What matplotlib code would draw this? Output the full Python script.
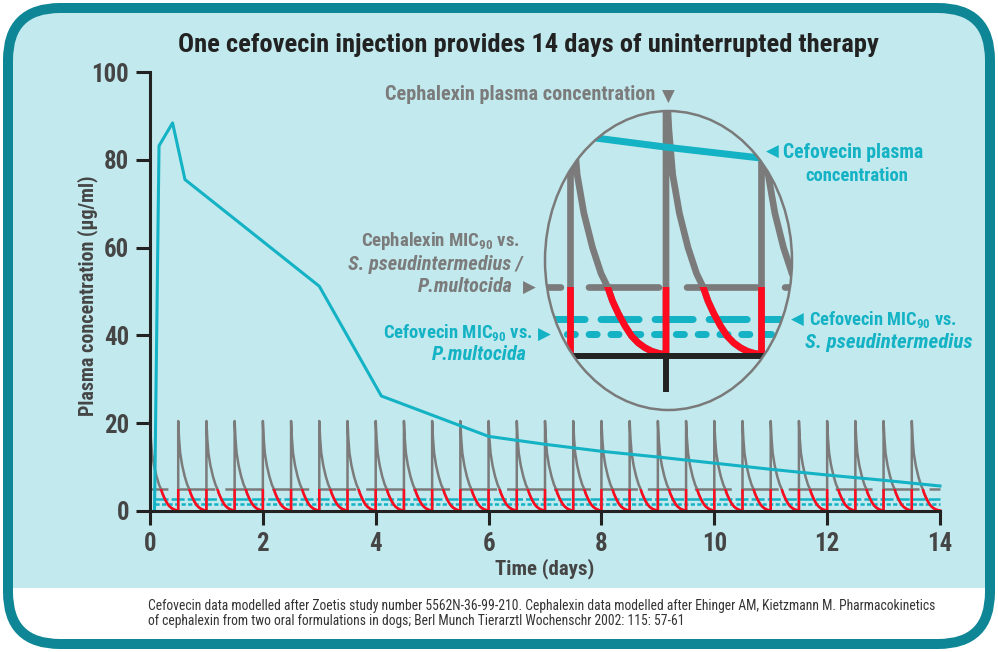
import numpy as np
import matplotlib
matplotlib.use('Agg')
import matplotlib.pyplot as plt
from matplotlib import font_manager
from matplotlib.patches import FancyBboxPatch, Rectangle, Ellipse
from matplotlib.transforms import Bbox, TransformedBbox

# 字体: 优先使用窄体, 没有的话用 DejaVu Sans
names = {f.name for f in font_manager.fontManager.ttflist}
NARROW = 'DejaVu Sans'
for cand in ['Liberation Sans Narrow', 'Roboto Condensed', 'Open Sans Condensed',
             'Noto Sans Condensed', 'DejaVu Sans Condensed']:
    if cand in names:
        NARROW = cand
        break
STRETCH = 'normal'
if NARROW == 'DejaVu Sans':
    if any(f.name == 'DejaVu Sans' and 'Condensed' in f.fname
           for f in font_manager.fontManager.ttflist):
        STRETCH = 'condensed'
FAM = [NARROW, 'DejaVu Sans']
plt.rcParams['font.family'] = FAM
plt.rcParams['font.stretch'] = STRETCH
plt.rcParams['font.weight'] = 'bold'
plt.rcParams['lines.scale_dashes'] = False
plt.rcParams['mathtext.fontset'] = 'custom'
plt.rcParams['mathtext.bf'] = NARROW + ':bold'
plt.rcParams['mathtext.rm'] = NARROW

# ---- 数据 ----
cef_days = [0.08, 0.16, 0.40, 0.62, 3.0, 4.1, 6.0, 7.0, 8.0, 9.0, 10.0, 11.0, 12.0, 13.0, 14.0]
cef_conc = [0.3, 83.2, 88.4, 75.5, 51.2, 26.2, 17.0, 15.2, 13.6, 12.3, 10.9, 9.5, 8.2, 7.0, 5.7]

dose_days = [0.0, 0.5, 1.0, 1.5, 2.0, 2.5, 3.0, 3.5, 4.0, 4.5, 5.0, 5.5, 6.0, 6.5,
             7.0, 7.5, 8.0, 8.5, 9.0, 9.5, 10.0, 10.5, 11.0, 11.5, 12.0, 12.5, 13.0, 13.5]
# 单次给药后的头孢氨苄浓度 (给药后天数, μg/ml)
decay_t = [0.0, 0.015, 0.035, 0.07, 0.115, 0.16, 0.195, 0.22, 0.25, 0.285, 0.32,
           0.355, 0.39, 0.425, 0.46, 0.5]
decay_c = [20.5, 16.5, 13.2, 10.4, 7.9, 6.0, 5.0, 4.0, 3.1, 2.2, 1.45,
           0.95, 0.6, 0.35, 0.2, 0.1]

ceph_mic = 5.0          # Cephalexin MIC90
cef_mic_sp = 2.7        # Cefovecin MIC90 vs S. pseudintermedius
cef_mic_pm = 1.6        # Cefovecin MIC90 vs P. multocida
ceph_span = [0.0, 14.0]
cef_mic_span = [0.09, 14.0]

x_ticks = [0, 2, 4, 6, 8, 10, 12, 14]
y_ticks = [0, 20, 40, 60, 80, 100]

ceph_t = np.concatenate([d + np.array(decay_t) for d in dose_days])
ceph_c = np.tile(decay_c, len(dose_days))

# ---- 颜色 ----
LIGHT = '#c2e9ed'
TEAL = '#0f8696'
CYAN = '#13b2c4'
GRAY = '#7b7b7b'
RED = '#ff0a1e'
BLACK = '#222222'
TXT = '#454545'

fig = plt.figure(figsize=(9.98, 6.52), dpi=100)

# 背景 (像素坐标, y 向下)
bg = fig.add_axes([0, 0, 1, 1], zorder=0)
bg.set_xlim(0, 998)
bg.set_ylim(652, 0)
bg.axis('off')
panel = FancyBboxPatch((8, 8), 982, 636, boxstyle='round,pad=0,rounding_size=52',
                       fc=LIGHT, ec='none')
bg.add_patch(panel)
white = Rectangle((0, 588), 998, 70, fc='white', ec='none')
bg.add_patch(white)
white.set_clip_path(panel)
bg.add_patch(FancyBboxPatch((8, 8), 982, 636, boxstyle='round,pad=0,rounding_size=52',
                            fc='none', ec=TEAL, lw=7.2))

fits = []  # (文本, 目标宽度 px)


def label(x, y, s, color, width=None, size=15, ha='left', style='normal',
          fam=None, weight='bold'):
    t = bg.text(x, y, s, color=color, fontsize=size, ha=ha, va='center', style=style,
                fontweight=weight, family=fam if fam else FAM)
    if width:
        fits.append((t, width))
    return t


label(528, 45, 'One cefovecin injection provides 14 days of uninterrupted therapy',
      BLACK, width=696, size=19, ha='center')

label(655, 95, 'Cephalexin plasma concentration', GRAY, width=270, ha='right')
label(668, 97, '\u25BC', GRAY, size=12, ha='center', fam='DejaVu Sans')

label(772, 152, '\u25C0', CYAN, size=12, ha='center', fam='DejaVu Sans')
label(783, 152, 'Cefovecin plasma', CYAN, width=140)
label(857, 176, 'concentration', CYAN, width=103, ha='center')

label(520, 241, r'Cephalexin MIC$_{\mathbf{90}}$ vs.', GRAY, width=159, ha='right')
label(522, 264, 'S. pseudintermedius /', GRAY, width=175, ha='right', style='italic')
label(513, 287, 'P.multocida', GRAY, width=95, ha='right', style='italic')
label(529, 288, '\u25B6', GRAY, size=12, ha='center', fam='DejaVu Sans')

label(533, 333, r'Cefovecin MIC$_{\mathbf{90}}$ vs.', CYAN, width=150, ha='right')
label(544, 335, '\u25B6', CYAN, size=12, ha='center', fam='DejaVu Sans')
label(527, 355, 'P.multocida', CYAN, width=95, ha='right', style='italic')

label(797, 320, '\u25C0', CYAN, size=12, ha='center', fam='DejaVu Sans')
label(809, 320, r'Cefovecin MIC$_{\mathbf{90}}$ vs.', CYAN, width=148)
label(805, 343, 'S. pseudintermedius', CYAN, width=168, style='italic')

foot1 = label(148, 606, 'Cefovecin data modelled after Zoetis study number 5562N-36-99-210. '
              'Cephalexin data modelled after Ehinger AM, Kietzmann M. Pharmacokinetics',
              '#333333', width=784, size=9, weight='normal')
foot2 = label(148, 621, 'of cephalexin from two oral formulations in dogs; '
              'Berl Munch Tierarztl Wochenschr 2002: 115: 57-61',
              '#333333', size=9, weight='normal')

# ---- 主图 ----
ax = fig.add_axes([150 / 998, (652 - 511) / 652, 790 / 998, 439 / 652], zorder=1)
ax.set_facecolor('none')
ax.set_xlim(0, 14)
ax.set_ylim(0, 100)
for s in ['top', 'right']:
    ax.spines[s].set_visible(False)
for s in ['left', 'bottom']:
    ax.spines[s].set_color(BLACK)
    ax.spines[s].set_linewidth(2.2)
ax.set_xticks(x_ticks)
ax.set_yticks(y_ticks)
ax.tick_params(length=10, width=2.2, color=BLACK, labelsize=17, labelcolor=TXT, pad=5)
xl = ax.set_xlabel('Time (days)', fontsize=15.5, color=TXT, fontweight='bold')
yl = ax.set_ylabel('Plasma concentration (\u00b5g/ml)', fontsize=15.5, color=TXT,
                   fontweight='bold')

ax.plot(cef_mic_span, [cef_mic_sp] * 2, color=CYAN, lw=1.8,
        linestyle=(0, (9.4, 2.2)), clip_on=False)
ax.plot(cef_mic_span, [cef_mic_pm] * 2, color=CYAN, lw=1.8,
        linestyle=(0, (3.0, 1.7)), clip_on=False)
ax.plot(ceph_span, [ceph_mic] * 2, color=GRAY, lw=1.8,
        linestyle=(13.7, (26.6, 7.2)), clip_on=False)
ax.plot(ceph_t, ceph_c, color=GRAY, lw=1.8, clip_on=False)
red, = ax.plot(ceph_t, ceph_c, color=RED, lw=1.8)
red.set_clip_box(TransformedBbox(Bbox([[-1, -10], [15, ceph_mic]]), ax.transData))
ax.plot(cef_days, cef_conc, color=CYAN, lw=2.2, clip_on=False)

# ---- 放大椭圆 ----
axi = fig.add_axes([545 / 998, (652 - 410) / 652, 247 / 998, 299 / 652], zorder=2)
axi.set_facecolor('none')
axi.set_xlim(6.3665, 7.6597)
axi.set_ylim(-3.93, 17.83)
for s in ['top', 'right', 'left']:
    axi.spines[s].set_visible(False)
axi.spines['bottom'].set_position(('data', 0))
axi.spines['bottom'].set_color(BLACK)
axi.spines['bottom'].set_linewidth(4.3)
axi.set_xticks([7.0])
axi.set_xticklabels([])
axi.set_yticks([])
axi.tick_params(axis='x', length=26, width=4.3, color=BLACK)

fill = Ellipse((0.5, 0.5), 1, 1, transform=axi.transAxes, fc=LIGHT, ec='none', zorder=0)
axi.add_patch(fill)
clip = Ellipse((0.5, 0.5), 1, 1, transform=axi.transAxes)
axi.spines['bottom'].set_clip_path(clip)

lines = []
lines.append(axi.axhline(cef_mic_sp, color=CYAN, lw=5, dash_capstyle='round',
                         linestyle=(37.8, (27.4, 11.5))))
lines.append(axi.axhline(cef_mic_pm, color=CYAN, lw=5, dash_capstyle='round',
                         linestyle=(0, (5.8, 9.9))))
lines.append(axi.axhline(ceph_mic, color=GRAY, lw=4.8, dash_capstyle='round',
                         linestyle=(39.3, (50.4, 20.2))))
lines += axi.plot(ceph_t, ceph_c, color=GRAY, lw=4.8)
for ln in lines:
    ln.set_clip_path(clip)
red_in, = axi.plot(ceph_t, ceph_c, color=RED, lw=4.8)
red_in.set_clip_path(clip)
red_in.set_clip_box(TransformedBbox(Bbox([[0, -10], [20, ceph_mic]]), axi.transData))
cef_in, = axi.plot(cef_days, cef_conc, color=CYAN, lw=5)
cef_in.set_clip_path(clip)

axi.add_patch(Ellipse((0.5, 0.5), 1, 1, transform=axi.transAxes, fc='none',
                      ec='#7a7a7a', lw=1.8, clip_on=False, zorder=5))

# ---- 按参考图宽度调整字号 ----
fig.canvas.draw()
r = fig.canvas.get_renderer()
for _ in range(2):
    for t, w in fits:
        cur = t.get_window_extent(r).width
        t.set_fontsize(t.get_fontsize() * w / cur)
foot2.set_fontsize(foot1.get_fontsize())

ylen = yl.get_window_extent(r).height
yl.set_fontsize(yl.get_fontsize() * 240 / ylen)
xlen = xl.get_window_extent(r).width
xl.set_fontsize(xl.get_fontsize() * 99 / xlen)
tw = ax.get_yticklabels()[-1].get_window_extent(r).width
ax.tick_params(labelsize=17 * 38 / tw)
ax.xaxis.labelpad = 2
ax.yaxis.set_label_coords(-52 / 790, 0.49)

fig.savefig('out.png', dpi=100)
